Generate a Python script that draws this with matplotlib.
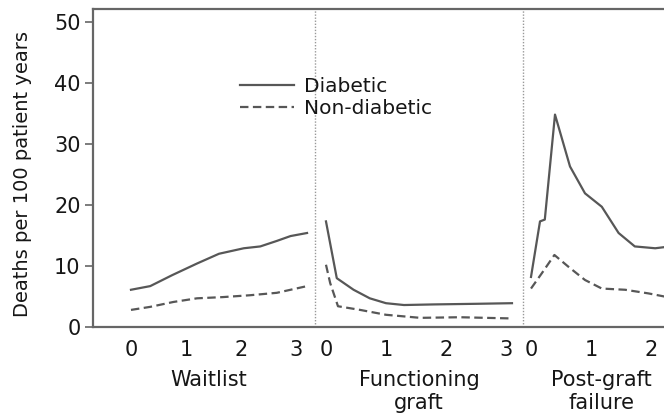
import numpy as np
import matplotlib
matplotlib.use("Agg")
import matplotlib.pyplot as plt

plt.rcParams["font.family"] = ["DejaVu Sans"]

# follow-up time (years) and death rates per 100 patient years
wait_t_dm = [0, 0.35, 0.75, 1.2, 1.6, 2.05, 2.35, 2.65, 2.9, 3.2]
wait_dm = [6.1, 6.7, 8.5, 10.4, 12.0, 12.9, 13.2, 14.1, 14.9, 15.4]
wait_t_nd = [0, 0.35, 0.77, 1.2, 1.67, 2.16, 2.65, 3.2]
wait_nd = [2.8, 3.3, 4.1, 4.7, 4.9, 5.2, 5.6, 6.7]

graft_t_dm = [0, 0.18, 0.46, 0.73, 1.0, 1.3, 1.8, 2.5, 3.1]
graft_dm = [17.3, 8.0, 6.1, 4.7, 3.9, 3.6, 3.7, 3.8, 3.9]
graft_t_nd = [0, 0.07, 0.2, 0.57, 1.0, 1.57, 2.23, 3.1]
graft_nd = [10.2, 7.2, 3.4, 2.8, 2.0, 1.5, 1.6, 1.4]

fail_t_dm = [0, 0.15, 0.23, 0.4, 0.65, 0.9, 1.18, 1.46, 1.73, 2.07, 2.4]
fail_dm = [8.2, 17.3, 17.6, 34.8, 26.3, 21.9, 19.7, 15.4, 13.2, 12.9, 13.3]
fail_t_nd = [0, 0.18, 0.39, 0.62, 0.9, 1.18, 1.57, 1.96, 2.22, 2.4]
fail_nd = [6.3, 8.8, 11.8, 9.9, 7.7, 6.3, 6.1, 5.5, 5.0, 4.8]

segment_names = ["Waitlist", "Functioning\ngraft", "Post-graft\nfailure"]
segment_ticks = [[0, 1, 2, 3], [0, 1, 2, 3], [0, 1, 2]]
yticks = [0, 10, 20, 30, 40, 50]

# where each segment sits on the shared x axis
seg_origin = [0.633, 3.883, 7.30]
seg_scale = [0.917, 1.0, 1.0]
seg_label_t = [1.42, 1.55, 1.17]
dividers = [3.70, 7.167]

line_color = "#575757"
frame_color = "#666666"
text_color = "#161616"

fig = plt.figure(figsize=(6.64, 4.17), dpi=100)
ax = fig.add_axes([93 / 664, 90 / 417, (720 - 93) / 664, 318 / 417])

series = [
    (wait_t_dm, wait_dm, wait_t_nd, wait_nd),
    (graft_t_dm, graft_dm, graft_t_nd, graft_nd),
    (fail_t_dm, fail_dm, fail_t_nd, fail_nd),
]

for i, (t_dm, dm, t_nd, nd) in enumerate(series):
    x_dm = seg_origin[i] + seg_scale[i] * np.array(t_dm)
    x_nd = seg_origin[i] + seg_scale[i] * np.array(t_nd)
    ax.plot(x_dm, dm, color=line_color, lw=1.6,
            label="Diabetic" if i == 0 else None)
    ax.plot(x_nd, nd, color=line_color, lw=1.6, dashes=(3.8, 2.0),
            label="Non-diabetic" if i == 0 else None)

for xd in dividers:
    ax.axvline(xd, color="#999999", lw=1.0, linestyle=(0, (1, 1.2)))

ax.set_xlim(0, 627 / 60)
ax.set_ylim(0, 52.1)

# tick positions and labels for the three time segments
xt, xl = [], []
for i, ticks in enumerate(segment_ticks):
    for t in ticks:
        xt.append(seg_origin[i] + seg_scale[i] * t)
        xl.append(str(t))
ax.set_xticks(xt)
ax.set_xticklabels(xl, fontsize=15, color=text_color)
ax.tick_params(axis="x", length=0, pad=9)

ax.set_yticks(yticks)
ax.set_yticklabels([str(v) for v in yticks], fontsize=15, color=text_color)
ax.tick_params(axis="y", length=6, width=1.2, color=frame_color, pad=3)

for i, name in enumerate(segment_names):
    ax.text(seg_origin[i] + seg_scale[i] * seg_label_t[i], -0.135, name,
            transform=ax.get_xaxis_transform(), ha="center", va="top",
            fontsize=15, color=text_color, linespacing=1.2)

ax.set_ylabel("Deaths per 100 patient years", fontsize=14, color=text_color)
ax.yaxis.set_label_coords(-0.097, 0.48)

for side in ["left", "top", "bottom"]:
    ax.spines[side].set_color(frame_color)
    ax.spines[side].set_linewidth(1.6)
ax.spines["right"].set_visible(False)

leg = ax.legend(loc="upper left", bbox_to_anchor=((240 - 93) / 627, (327 - 77) / 318),
                frameon=False, fontsize=14.5, handlelength=2.7, handletextpad=0.5,
                labelspacing=0.17, borderpad=0, borderaxespad=0)
for txt in leg.get_texts():
    txt.set_color(text_color)

fig.savefig("out.png", dpi=100)
